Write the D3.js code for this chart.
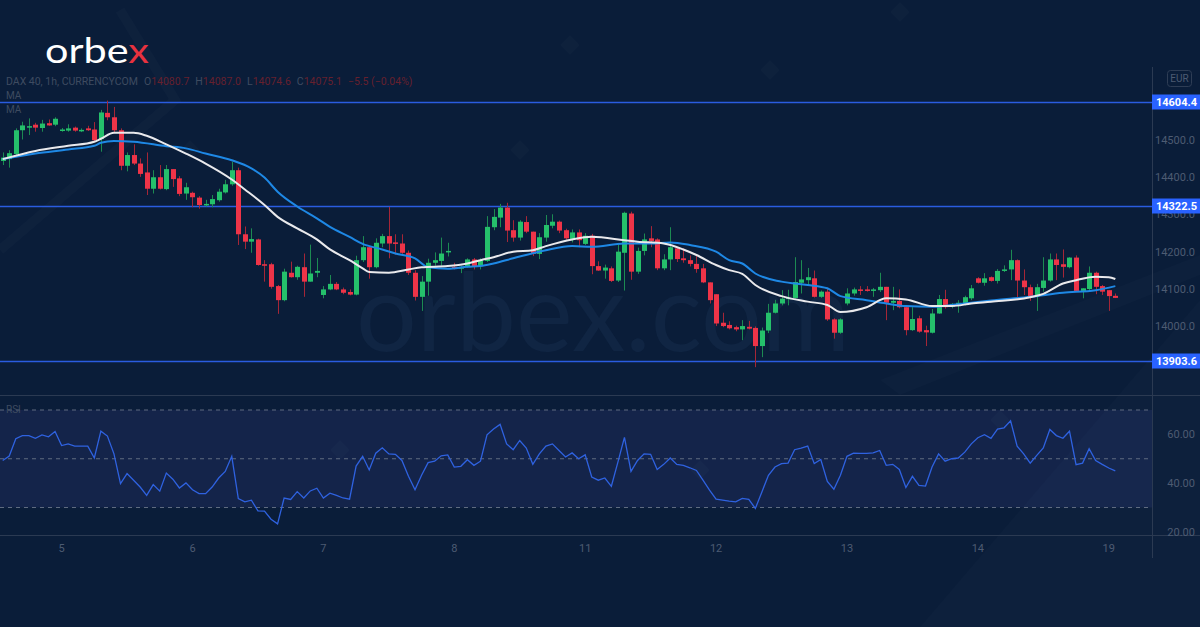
<!DOCTYPE html>
<html><head><meta charset="utf-8">
<script src="https://cdn.jsdelivr.net/npm/d3@7/dist/d3.min.js"></script>
<style>html,body{margin:0;padding:0;background:#0a1d39;}svg{display:block;}</style>
</head><body>
<script>
// ---------- DATA ----------
const opens = [14445,14450,14464,14528,14537,14543,14534,14547,14543,14528,14527,14535,14528,14533,14530,14504,14575,14563,14528,14432,14461,14438,14414,14370,14401,14369,14423,14398,14357,14359,14346,14327,14328,14339,14360,14382,14420,14247,14227,14233,14166,14166,14107,14069,14143,14131,14158,14119,14143,14083,14098,14113,14098,14091,14084,14177,14212,14158,14222,14242,14225,14222,14197,14143,14078,14119,14170,14175,14199,14159,14154,14159,14179,14161,14175,14266,14292,14319,14258,14238,14280,14254,14194,14238,14270,14281,14258,14233,14252,14221,14243,14161,14149,14155,14122,14197,14303,14146,14202,14236,14233,14155,14179,14209,14182,14177,14167,14155,14117,14085,14008,14002,13996,13990,13997,13994,13945,13987,14035,14060,14073,14075,14116,14123,14128,14078,14092,14017,13981,14060,14087,14098,14098,14094,14096,14105,14062,14067,14050,13988,14020,13988,13981,14033,14072,14051,14059,14059,14074,14128,14116,14131,14121,14149,14152,14177,14122,14104,14080,14102,14122,14179,14166,14158,14184,14094,14099,14143,14107,14096,14080.7];
const highs = [14468,14474,14533,14551,14560,14548,14556,14557,14563,14534,14544,14538,14533,14540,14550,14583,14608,14591,14533,14468,14490,14452,14468,14420,14434,14434,14423,14404,14386,14362,14350,14340,14353,14370,14394,14443,14427,14268,14263,14235,14177,14170,14110,14154,14173,14162,14195,14219,14183,14107,14137,14118,14103,14098,14189,14242,14215,14236,14248,14321,14247,14247,14203,14150,14134,14181,14198,14238,14224,14170,14162,14182,14183,14182,14296,14315,14329,14332,14285,14285,14296,14254,14250,14299,14301,14284,14262,14260,14260,14250,14248,14174,14165,14160,14219,14308,14308,14211,14249,14269,14236,14193,14266,14212,14209,14190,14188,14167,14117,14085,14035,14012,14000,14015,14013,13998,13995,14059,14070,14096,14097,14185,14177,14156,14149,14095,14101,14020,14020,14101,14103,14107,14107,14102,14143,14105,14105,14098,14050,14050,14027,14000,14045,14083,14097,14061,14069,14081,14110,14131,14142,14133,14153,14163,14205,14179,14152,14111,14113,14185,14195,14195,14206,14185,14190,14101,14160,14146,14110,14096,14087.0];
const lows = [14434,14427,14456,14503,14515,14524,14524,14540,14539,14524,14524,14524,14523,14526,14497,14470,14555,14521,14420,14417,14434,14402,14353,14357,14368,14366,14375,14350,14340,14320,14316,14322,14320,14335,14357,14378,14218,14207,14197,14162,14119,14100,14032,14066,14130,14124,14078,14119,14131,14074,14096,14096,14085,14082,14082,14172,14127,14155,14212,14182,14192,14194,14137,14068,14040,14081,14162,14162,14187,14152,14142,14156,14152,14152,14172,14258,14266,14226,14227,14230,14250,14188,14180,14227,14263,14250,14232,14225,14212,14218,14139,14148,14127,14118,14118,14095,14124,14140,14190,14212,14150,14150,14150,14172,14170,14160,14143,14115,14060,13999,13996,13990,13985,13961,13990,13888,13915,13980,14033,14055,14055,14073,14087,14110,14076,14075,14013,13965,13978,14055,14081,14083,14092,14078,14091,14015,14042,14047,13974,13986,13981,13945,13979,14032,14046,14047,14035,14055,14069,14114,14108,14119,14114,14145,14123,14077,14083,14067,14040,14092,14119,14123,14130,14155,14092,14074,14096,14085,14083,14040,14074.6];
const closes = [14454,14466,14528,14541,14539,14535,14546,14541,14559,14530,14533,14527,14529,14528,14501,14576,14563,14528,14432,14461,14438,14410,14370,14401,14370,14423,14396,14356,14374,14347,14326,14329,14342,14362,14382,14420,14247,14227,14234,14164,14162,14105,14069,14146,14131,14159,14119,14141,14148,14098,14113,14098,14089,14084,14177,14212,14158,14224,14242,14222,14221,14197,14143,14078,14119,14170,14177,14195,14202,14154,14159,14179,14159,14177,14267,14294,14319,14257,14238,14281,14254,14194,14239,14272,14281,14257,14236,14252,14231,14243,14161,14149,14157,14121,14200,14305,14146,14202,14233,14229,14155,14179,14212,14180,14177,14167,14153,14117,14069,14006,13999,13993,13990,13999,13992,13945,13987,14035,14060,14073,14076,14118,14125,14131,14078,14092,14017,13981,14017,14087,14098,14094,14094,14098,14105,14062,14067,14050,13988,14018,13984,13982,14033,14072,14050,14059,14062,14077,14101,14116,14128,14121,14148,14152,14177,14122,14104,14080,14104,14122,14179,14164,14159,14184,14094,14101,14143,14105,14092,14080,14075.1];

const whiteMaAt = [0,5,10,14,15,17,20,22,25,28,31,35,37,40,42,45,48,50,53,55,56,59,62,64,68,71,73,75,78,81,83,87,90,95,97,101,104,106,109,111,113,115,119,123,126,128,132,135,138,142,145,148,151,157,159,162,164,167,169,170];
const whiteMa = [14450,14472,14486,14497,14505,14521,14521,14513,14490,14465,14438,14395,14368,14326,14294,14263,14233,14206,14177,14155,14145,14143,14152,14158,14161,14168,14177,14185,14200,14204,14215,14233,14240,14231,14227,14222,14206,14191,14164,14150,14140,14110,14080,14065,14056,14037,14050,14074,14071,14053,14053,14060,14065,14077,14086,14114,14123,14132,14131,14126];
const blueMaAt = [0,5,10,14,15,17,20,25,28,31,35,38,40,42,45,48,50,53,55,58,60,63,65,68,71,73,75,78,83,87,90,95,99,102,105,109,111,113,115,119,123,126,128,132,135,138,142,145,148,151,157,162,167,170];
const blueMa = [14450,14465,14476,14486,14494,14499,14497,14485,14479,14465,14447,14425,14400,14362,14322,14290,14267,14240,14221,14206,14195,14182,14158,14154,14159,14161,14168,14182,14204,14215,14213,14222,14222,14225,14218,14200,14177,14168,14141,14119,14110,14101,14080,14069,14060,14053,14051,14056,14062,14068,14078,14089,14096,14107];

const rsi = [49.3,51.1,58.2,59.5,59.5,58.4,59.8,59.0,61.2,55.4,56.1,55.2,55.2,55.2,50.3,61.3,59.3,52.0,39.8,43.9,41.2,38.4,35.0,39.4,36.7,44.1,41.6,38.0,40.1,37.3,35.7,35.7,38.4,42.1,44.8,51.0,33.7,32.3,33.0,28.6,28.5,25.2,23.3,33.9,33.3,36.5,33.9,36.8,37.9,33.9,35.9,35.0,33.9,33.4,47.0,51.0,45.4,52.3,54.5,52.0,51.8,49.3,42.8,37.3,43.2,48.4,49.0,51.2,51.6,46.6,46.9,49.6,47.3,49.0,59.8,62.2,64.1,56.1,53.7,57.5,54.4,47.7,52.0,55.2,56.1,53.4,50.7,52.4,50.0,51.6,42.5,41.2,42.1,38.7,48.6,58.8,44.8,49.3,52.0,51.8,45.6,47.7,50.3,47.7,47.3,46.3,45.2,41.2,37.1,33.4,33.0,32.6,32.3,33.7,33.3,29.6,36.4,43.2,46.6,48.0,48.2,53.7,54.4,55.2,48.0,49.7,40.7,37.5,43.2,51.0,52.3,52.2,52.2,52.4,53.4,47.3,47.7,45.6,38.2,42.8,39.1,38.8,46.6,52.0,49.0,50.0,50.3,52.7,56.1,58.6,59.9,58.4,62.2,62.7,65.6,55.2,52.0,48.2,51.4,54.4,62.0,59.5,58.4,61.3,47.6,48.2,54.1,49.3,47.7,46.2,45.0];

const levels = [14604.4, 14322.5, 13903.6];
const priceTicks = [14000, 14100, 14200, 14300, 14400, 14500];
const rsiTicks = [20, 40, 60];
const rsiBands = [70, 50, 30];
const dayAt = [9, 29, 49, 69, 89, 109, 129, 149, 169];
const dayLabels = ["5", "6", "7", "8", "11", "12", "13", "14", "19"];

// ---------- DRAW ----------
const W = 1200, H = 627;
const svg = d3.select("body").append("svg").attr("width", W).attr("height", H);
const FONT = "Roboto, 'Liberation Sans', sans-serif";

const x = d3.scaleLinear().domain([0, closes.length - 1]).range([2.7, 1115.3]);
const y = d3.scaleLinear().domain([14000, 14500]).range([325.7, 140.6]);
const yr = d3.scaleLinear().domain([30, 70]).range([507.5, 410]);
const AX = 1152;

// background
svg.append("rect").attr("width", W).attr("height", H).attr("fill", "#0a1d39");
// decorative faint shapes
const deco = svg.append("g");
deco.append("path").attr("d", "M0,250 L175,100 L120,10").attr("fill", "none").attr("stroke", "#ffffff").attr("stroke-opacity", 0.02).attr("stroke-width", 10);
deco.append("path").attr("d", "M920,627 L1200,627 L1200,300 Z").attr("fill", "#ffffff").attr("fill-opacity", 0.015);
deco.append("path").attr("d", "M880,380 L1200,255 L1200,275 L900,395 Z").attr("fill", "#ffffff").attr("fill-opacity", 0.015);
[[190,150],[520,150],[570,45],[900,12],[770,70],[340,450],[700,470],[1000,420]].forEach(([cx, cy]) => {
  deco.append("rect").attr("x", cx - 7).attr("y", cy - 7).attr("width", 14).attr("height", 14)
    .attr("transform", `rotate(45 ${cx} ${cy})`).attr("fill", "#ffffff").attr("fill-opacity", 0.02);
});

// watermark
svg.append("text").attr("x", 356).attr("y", 351).attr("font-family", "Lato, sans-serif")
  .attr("font-size", 108).attr("font-weight", 400).attr("fill", "#102543")
  .attr("textLength", 494).attr("lengthAdjust", "spacingAndGlyphs").text("orbex.com");

// logo
const logo = svg.append("text").attr("x", 45).attr("y", 63).attr("font-family", "Lato, sans-serif")
  .attr("font-size", 34).attr("font-weight", 400).attr("textLength", 104).attr("lengthAdjust", "spacingAndGlyphs");
logo.append("tspan").attr("fill", "#ffffff").text("orbe");
logo.append("tspan").attr("fill", "#e8323f").text("x");

// RSI band
svg.append("rect").attr("x", 0).attr("y", yr(70)).attr("width", AX).attr("height", yr(30) - yr(70))
  .attr("fill", "#7b6cff").attr("fill-opacity", 0.09);
svg.selectAll(".rb").data(rsiBands).join("line")
  .attr("x1", 0).attr("x2", AX).attr("y1", d => yr(d)).attr("y2", d => yr(d))
  .attr("stroke", "#5f6b80").attr("stroke-width", 1).attr("stroke-dasharray", "4,4");

// separators
const sepC = "#2b3a52";
svg.append("line").attr("x1", 0).attr("x2", W).attr("y1", 395.5).attr("y2", 395.5).attr("stroke", sepC);
svg.append("line").attr("x1", 0).attr("x2", W).attr("y1", 535.5).attr("y2", 535.5).attr("stroke", sepC);
svg.append("line").attr("x1", AX + 0.5).attr("x2", AX + 0.5).attr("y1", 67).attr("y2", 558).attr("stroke", sepC);

// price axis labels
const axisC = "#4d5b72";
svg.selectAll(".pt").data(priceTicks).join("text")
  .attr("x", 1195).attr("y", d => y(d)).attr("dy", "0.35em").attr("text-anchor", "end")
  .attr("font-family", FONT).attr("font-size", 11).attr("fill", axisC).text(d => d3.format(".1f")(d));
// EUR box
svg.append("rect").attr("x", 1167.5).attr("y", 70.5).attr("width", 24).attr("height", 16).attr("rx", 3)
  .attr("fill", "none").attr("stroke", "#2e3d55");
svg.append("text").attr("x", 1179.5).attr("y", 78.5).attr("dy", "0.35em").attr("text-anchor", "middle")
  .attr("font-family", FONT).attr("font-size", 10).attr("fill", axisC).text("EUR");

// RSI axis labels
svg.selectAll(".rt").data(rsiTicks).join("text")
  .attr("x", 1195).attr("y", d => yr(d)).attr("dy", "0.35em").attr("text-anchor", "end")
  .attr("font-family", FONT).attr("font-size", 11).attr("fill", axisC).text(d => d3.format(".2f")(d));

// date labels
svg.selectAll(".dl").data(dayAt).join("text")
  .attr("x", d => x(d)).attr("y", 548).attr("dy", "0.35em").attr("text-anchor", "middle")
  .attr("font-family", FONT).attr("font-size", 11).attr("fill", axisC).text((d, i) => dayLabels[i]);

// price pane clip
svg.append("clipPath").attr("id", "pc").append("rect").attr("x", 0).attr("y", 67).attr("width", AX).attr("height", 328);
const pane = svg.append("g").attr("clip-path", "url(#pc)");

// level lines
pane.selectAll(".lv").data(levels).join("line")
  .attr("x1", 0).attr("x2", AX).attr("y1", d => Math.round(y(d)) + 0.5).attr("y2", d => Math.round(y(d)) + 0.5)
  .attr("stroke", "#2a5ce0").attr("stroke-width", 1.3);

// candles
const idx = d3.range(closes.length);
const GREEN = "#25c06b", RED = "#ee3448";
const col = i => closes[i] >= opens[i] ? GREEN : RED;
pane.selectAll(".wk").data(idx).join("line")
  .attr("x1", i => Math.round(x(i)) + 0.5).attr("x2", i => Math.round(x(i)) + 0.5)
  .attr("y1", i => y(highs[i])).attr("y2", i => y(lows[i]))
  .attr("stroke", i => closes[i] >= opens[i] ? "#1c8a52" : "#a52637").attr("stroke-width", 1);
pane.selectAll(".bd").data(idx).join("rect")
  .attr("x", i => Math.round(x(i)) - 2)
  .attr("width", 5)
  .attr("y", i => y(Math.max(opens[i], closes[i])))
  .attr("height", i => Math.max(1.5, Math.abs(y(opens[i]) - y(closes[i]))))
  .attr("fill", col);

// MAs
const maLine = (at, vals) => d3.line().x((d, k) => x(at[k])).y(d => y(d)).curve(d3.curveMonotoneX)(vals);
pane.append("path").attr("d", maLine(blueMaAt, blueMa)).attr("fill", "none").attr("stroke", "#1e88e5").attr("stroke-width", 2);
pane.append("path").attr("d", maLine(whiteMaAt, whiteMa)).attr("fill", "none").attr("stroke", "#e9e9ec").attr("stroke-width", 2);

// level labels
const lab = svg.selectAll(".ll").data(levels).join("g").attr("transform", d => `translate(${AX},${Math.round(y(d))})`);
lab.append("rect").attr("x", 0).attr("y", -7.5).attr("width", 48).attr("height", 15).attr("fill", "#2962ff");
lab.append("text").attr("x", 45).attr("y", 0).attr("dy", "0.35em").attr("text-anchor", "end")
  .attr("font-family", FONT).attr("font-size", 11).attr("font-weight", 700).attr("fill", "#ffffff")
  .text(d => d3.format(".1f")(d));

// RSI line
svg.append("path").attr("d", d3.line().x((d, i) => x(i)).y(d => yr(d))(rsi))
  .attr("fill", "none").attr("stroke", "#2f62e0").attr("stroke-width", 1.3);

// header text
const hdrC = "#3e4b60", valC = "#66202e";
const hdr = svg.append("text").attr("x", 6).attr("y", 81).attr("dy", "0.35em")
  .attr("font-family", FONT).attr("font-size", 10.5).attr("fill", hdrC);
const parts = [["DAX 40, 1h, CURRENCYCOM", hdrC, 0], ["O", hdrC, 6], ["14080.7", valC, 0], ["H", hdrC, 6], ["14087.0", valC, 0],
  ["L", hdrC, 6], ["14074.6", valC, 0], ["C", hdrC, 6], ["14075.1", valC, 0], ["\u22125.5 (\u22120.04%)", valC, 6]];
parts.forEach(([t, c, dx]) => hdr.append("tspan").attr("dx", dx).attr("fill", c).text(t));
svg.append("text").attr("x", 6).attr("y", 95).attr("dy", "0.35em").attr("font-family", FONT).attr("font-size", 10).attr("fill", hdrC).text("MA");
svg.append("text").attr("x", 6).attr("y", 109).attr("dy", "0.35em").attr("font-family", FONT).attr("font-size", 10).attr("fill", hdrC).text("MA");
svg.append("text").attr("x", 6).attr("y", 409).attr("dy", "0.35em").attr("font-family", FONT).attr("font-size", 10).attr("fill", hdrC).text("RSI");
</script>
</body></html>
